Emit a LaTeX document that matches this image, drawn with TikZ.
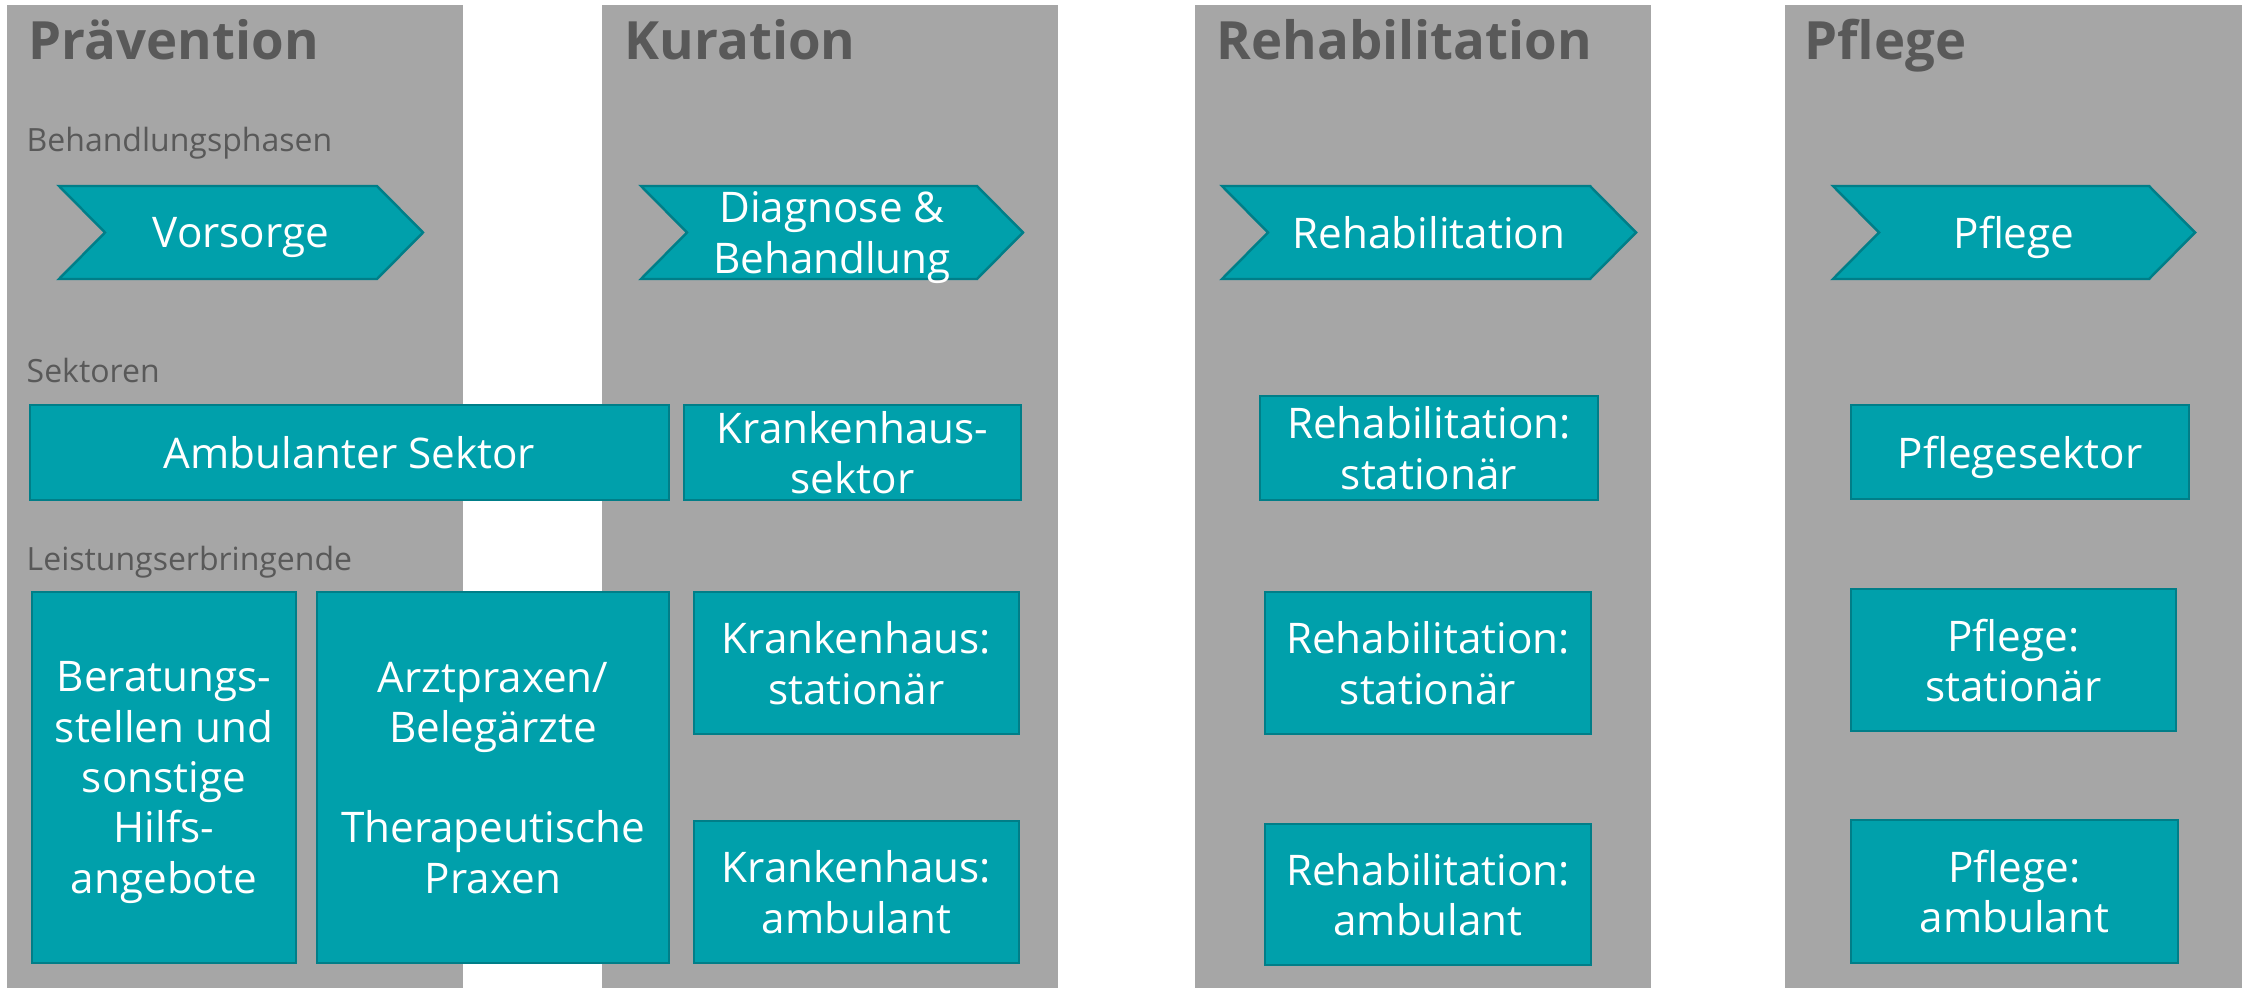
\documentclass[tikz,border=0pt]{standalone}
\usepackage{fontspec}
\setmainfont{Open Sans}
\usepackage{tikz}
\usepackage{xcolor}
\definecolor{spalte}{HTML}{A6A6A6}
\definecolor{kasten}{HTML}{00A0AB}
\definecolor{kastenrand}{HTML}{007E88}
\definecolor{schrift}{HTML}{595959}

\begin{document}
\begin{tikzpicture}[x=0.01cm,y=-0.01cm,
  titel/.style={anchor=base west,inner sep=0pt,text=schrift,font=\fontsize{15}{18}\selectfont\bfseries},
  ebene/.style={anchor=base west,inner sep=0pt,text=schrift,font=\fontsize{9.1}{11}\selectfont},
  phase/.style={fill=kasten,draw=kastenrand,line width=0.7pt},
  phasentext/.style={text=white,align=center,inner sep=0pt,text depth=0pt,font=\fontsize{12}{14.3}\selectfont},
  kast/.style={fill=kasten,draw=kastenrand,line width=0.7pt,text=white,align=center,inner sep=0pt,outer sep=0pt,text depth=0pt,font=\fontsize{12}{14.3}\selectfont}]
  \useasboundingbox (0,0) rectangle (2251,988);
  \fill[spalte] (7,5) rectangle (463,988);
  \fill[spalte] (602,5) rectangle (1058,988);
  \fill[spalte] (1195,5) rectangle (1651,988);
  \fill[spalte] (1785,5) rectangle (2242,988);

  \node[titel] (praev) at (28,60) {Prävention};
  \node[titel] (kura) at (624,60) {Kuration};
  \node[titel] (reha) at (1216,60) {Rehabilitation};
  \node[titel] (pfl) at (1804,60) {Pflege};

  \node[ebene] (phasen) at (26,152) {Behandlungsphasen};
  \node[ebene] (sektoren) at (26,382) {Sektoren};
  \node[ebene] (leist) at (26,570) {Leistungserbringende};

  \draw[phase] (59,186) -- (377,186) -- (423,232.5) -- (377,279) -- (59,279) -- (105,232.5) -- cycle;
  \node[phasentext] (vorsorge) at (241,232.5) {Vorsorge};
  \draw[phase] (641,186) -- (977,186) -- (1023,232.5) -- (977,279) -- (641,279) -- (687,232.5) -- cycle;
  \node[phasentext] (diagnose) at (832,232.5) {Diagnose \&\\Behandlung};
  \draw[phase] (1222,186) -- (1590,186) -- (1636,232.5) -- (1590,279) -- (1222,279) -- (1268,232.5) -- cycle;
  \node[phasentext] (rehaphase) at (1429,232.5) {Rehabilitation};
  \draw[phase] (1833,186) -- (2149,186) -- (2195,232.5) -- (2149,279) -- (1833,279) -- (1879,232.5) -- cycle;
  \node[phasentext] (pflphase) at (2014,232.5) {Pflege};

  \node[kast,minimum width=6.39cm,minimum height=0.95cm] (ambsek) at (349.5,452.5) {Ambulanter Sektor};
  \node[kast,minimum width=3.37cm,minimum height=0.95cm] (khsek) at (852.5,452.5) {Krankenhaus-\\sektor};
  \node[kast,minimum width=3.38cm,minimum height=1.04cm] (rehasek) at (1429,448) {Rehabilitation:\\stationär};
  \node[kast,minimum width=3.38cm,minimum height=0.94cm] (pflsek) at (2020,452) {Pflegesektor};

  \node[kast,minimum width=2.64cm,minimum height=3.71cm] (beratung) at (164,777.5) {Beratungs-\\stellen und\\sonstige\\Hilfs-\\angebote};
  \node[kast,minimum width=3.52cm,minimum height=3.71cm] (arzt) at (493,777.5) {Arztpraxen/\\Belegärzte\\[14.3pt]Therapeutische\\Praxen};
  \node[kast,minimum width=3.25cm,minimum height=1.42cm] (khstat) at (856.5,663) {Krankenhaus:\\stationär};
  \node[kast,minimum width=3.25cm,minimum height=1.42cm] (khamb) at (856.5,892) {Krankenhaus:\\ambulant};
  \node[kast,minimum width=3.26cm,minimum height=1.42cm] (rehastat) at (1428,663) {Rehabilitation:\\stationär};
  \node[kast,minimum width=3.26cm,minimum height=1.41cm] (rehaamb) at (1428,894.5) {Rehabilitation:\\ambulant};
  \node[kast,minimum width=3.25cm,minimum height=1.42cm] (pflstat) at (2013.5,660) {Pflege:\\stationär};
  \node[kast,minimum width=3.27cm,minimum height=1.43cm] (pflamb) at (2014.5,891.5) {Pflege:\\ambulant};
\end{tikzpicture}
\end{document}
